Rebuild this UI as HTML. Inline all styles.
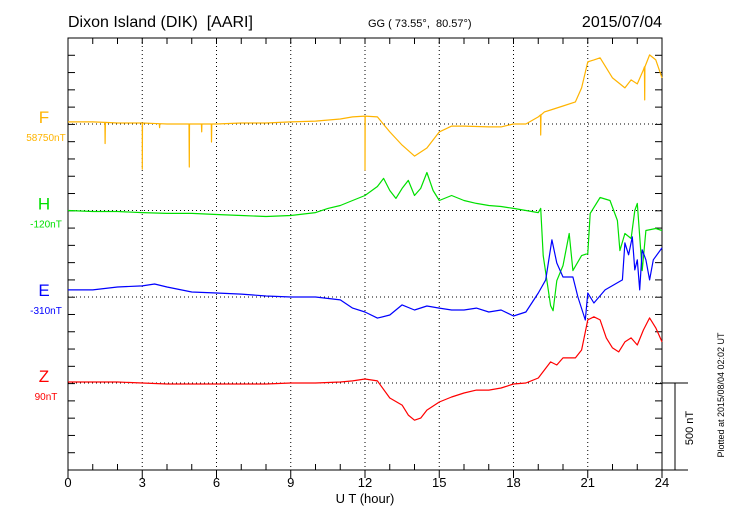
<!DOCTYPE html>
<html><head><meta charset="utf-8"><style>
body{margin:0;background:#fff;}
svg{display:block;font-family:"Liberation Sans",sans-serif;}
</style></head><body>
<svg id="chart" width="730" height="520" viewBox="0 0 730 520">
<text x="68" y="27" font-size="16">Dixon Island (DIK)&#160; [AARI]</text>
<text x="368" y="27" font-size="11">GG ( 73.55°,&#160; 80.57°)</text>
<text x="662" y="27" font-size="16" text-anchor="end">2015/07/04</text>
<rect x="68" y="38" width="594" height="432" fill="none" stroke="#000" stroke-width="1"/>
<line x1="662" y1="470" x2="688" y2="470" stroke="#000"/>
<line x1="662" y1="383" x2="688" y2="383" stroke="#000"/>
<line x1="675" y1="383" x2="675" y2="470" stroke="#000"/>
<text transform="translate(693,428) rotate(-90)" font-size="11" text-anchor="middle">500 nT</text>
<text transform="translate(724,395) rotate(-90)" font-size="9" text-anchor="middle">Plotted at 2015/08/04 02:02 UT</text>
<text x="365" y="503" font-size="13" text-anchor="middle">U T (hour)</text>
<g id="grid"></g><g id="ticks"></g><g id="xlabels"></g><g id="series"></g><g id="labels"></g>
</svg>
<script>
const xTickLabels=[0,3,6,9,12,15,18,21,24];
const fTimes=[0,1,2,3,4,5,6,7,8,9,10,11,11.5,12,12.5,13,13.5,14,14.5,15,15.5,16,17,17.5,18,18.5,19,19.25,19.5,20,20.5,20.75,21,21.25,21.5,22,22.5,22.75,23,23.25,23.5,23.75,24];
const fValues=[12,12,6,6,0,0,0,6,6,12,17,29,41,46,41,-46,-122,-186,-139,-46,-12,-12,-17,-17,0,0,41,70,81,104,128,209,360,371,383,267,209,255,232,313,400,371,267];
const fSpikeTimes=[1.5,3.0,3.7,4.9,5.4,5.8,12.0,19.1,23.3];
const fSpikeDepths=[-122,-267,-23,-249,-46,-104,-313,-116,-191];
const hTimes=[0,1,2,3,4,5,6,7,8,9,10,10.5,11,11.5,12,12.5,12.75,13,13.25,13.5,13.75,14,14.25,14.5,14.75,15,15.5,16,16.5,17,17.5,18,18.5,19,19.1,19.2,19.5,19.6,19.75,20,20.25,20.4,20.75,21,21.1,21.5,21.9,22.2,22.3,22.5,22.75,22.9,23,23.2,23.35,23.75,24];
const hValues=[0,-6,-6,-12,-17,-17,-23,-29,-35,-29,-12,12,29,58,87,139,186,116,70,128,174,87,128,220,116,58,87,58,41,29,23,12,0,-12,12,-261,-551,-580,-406,-319,-133,-348,-261,-249,-17,75,58,-58,-232,-133,-162,0,41,-348,-116,-104,-116];
const eTimes=[0,1,2,3,3.5,4,5,6,7,8,9,10,11,11.5,12,12.5,13,13.5,14,14.5,15,15.5,16,16.5,17,17.5,18,18.5,19,19.3,19.55,19.75,20,20.4,20.6,20.9,21,21.25,21.7,22.4,22.5,22.65,22.8,22.9,23,23.1,23.2,23.35,23.5,23.65,24];
const eValues=[41,41,58,64,75,58,29,23,17,6,0,0,-17,-64,-87,-122,-104,-46,-75,-52,-64,-75,-75,-64,-87,-75,-110,-87,23,99,331,197,116,116,0,-133,23,-35,41,99,313,244,348,157,215,41,273,215,99,215,284];
const zTimes=[0,1,2,3,4,5,6,7,8,9,10,11,11.5,12,12.5,13,13.5,13.75,14,14.25,14.5,15,15.5,16,16.5,17,17.5,18,18.5,19,19.25,19.5,19.75,20,20.5,20.75,21,21.25,21.5,21.75,22,22.25,22.5,22.75,23,23.25,23.5,23.75,24];
const zValues=[6,6,6,0,-6,-6,-6,-6,-6,0,0,6,12,23,12,-87,-128,-186,-215,-203,-157,-110,-81,-58,-41,-41,-29,-6,0,29,75,122,104,145,145,191,365,383,365,261,203,180,238,261,220,307,377,319,238];
const componentNames=["F","H","E","Z"];
const componentBaselines=["58750nT","-120nT","-310nT","90nT"];

const NS="http://www.w3.org/2000/svg";
const X0=68,X1=662,Y0=38,Y1=470;
const xScale=t=>X0+t*(X1-X0)/24;
const pxPerNT=86.4/500;
const baseY=[124,210.5,297,383];
const colors=["#ffb400","#00e000","#0000ff","#ff0000"];
function mk(tag,attrs,parent){const e=document.createElementNS(NS,tag);for(const k in attrs)e.setAttribute(k,attrs[k]);parent.appendChild(e);return e;}
const grid=document.getElementById('grid'),ticks=document.getElementById('ticks'),xl=document.getElementById('xlabels'),ser=document.getElementById('series'),lab=document.getElementById('labels');
for(let h=3;h<24;h+=3){const l=mk('line',{x1:xScale(h),x2:xScale(h),y1:Y0,y2:Y1,stroke:'#000','stroke-dasharray':'1,3','stroke-width':1},grid);

}
baseY.forEach((y,i)=>{const l=mk('line',{x1:X0,x2:X1,y1:y,y2:y,stroke:'#000','stroke-dasharray':'1,3'},grid);

});
for(let h=0;h<=24;h++){const x=xScale(h);const major=h%3===0;
const t1=mk('line',{x1:x,x2:x,y1:Y0,y2:Y0+6,stroke:'#000'},ticks);


const t2=mk('line',{x1:x,x2:x,y1:major?Y1:Y1-6,y2:major?Y1+8:Y1,stroke:'#000'},ticks);

}
for(let k=1;k<25;k++){const y=Y0+k*(Y1-Y0)/25;
const a=mk('line',{x1:X0,x2:X0+7,y1:y,y2:y,stroke:'#000'},ticks);


const b=mk('line',{x1:X1-7,x2:X1,y1:y,y2:y,stroke:'#000'},ticks);

}
xTickLabels.forEach(h=>{const t=mk('text',{x:xScale(h),y:Y1+17,'font-size':13,'text-anchor':'middle'},xl);t.textContent=h;

});
function interp(times,vals,t){for(let i=0;i<times.length-1;i++){if(t>=times[i]&&t<=times[i+1]){const f=(t-times[i])/(times[i+1]-times[i]);return vals[i]+f*(vals[i+1]-vals[i]);}}return vals[vals.length-1];}
function draw(times,vals,idx,spT,spD){let pts=[];
for(let i=0;i<times.length;i++){pts.push([times[i],vals[i]]);}
if(spT){spT.forEach((t,j)=>{const v=interp(times,vals,t);pts.push([t-0.01,v]);pts.push([t,v+spD[j]]);pts.push([t+0.01,v]);});pts.sort((a,b)=>a[0]-b[0]);}
const d=pts.map((p,i)=>(i?'L':'M')+xScale(p[0]).toFixed(1)+','+(baseY[idx]-p[1]*pxPerNT).toFixed(1)).join('');
const p=mk('path',{d:d,fill:'none',stroke:colors[idx],'stroke-width':1.2,'stroke-linejoin':'round'},ser);

}
draw(fTimes,fValues,0,fSpikeTimes,fSpikeDepths);
draw(hTimes,hValues,1);
draw(eTimes,eValues,2);
draw(zTimes,zValues,3);
componentNames.forEach((n,i)=>{const t=mk('text',{x:44,y:baseY[i]-1,'font-size':17,'text-anchor':'middle',fill:colors[i]},lab);t.textContent=n;


const s=mk('text',{x:46,y:baseY[i]+17,'font-size':10,'text-anchor':'middle',fill:colors[i]},lab);s.textContent=componentBaselines[i];

});
</script>
</body></html>
